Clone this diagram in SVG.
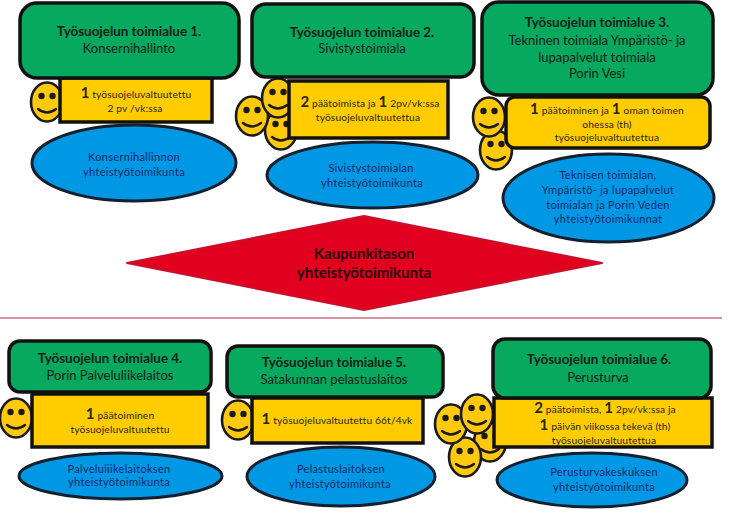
<svg xmlns="http://www.w3.org/2000/svg" width="739" height="528" viewBox="0 0 739 528">
<style>
text{font-family:Lato,"Noto Sans","Liberation Sans",sans-serif;text-anchor:middle;fill:#10201a}
.g{fill:#06a95e;stroke:#111;stroke-width:3.5}
.y{fill:#ffcc00;stroke:#111;stroke-width:3.5}
.b{fill:#0097e4;stroke:#14202e;stroke-width:3}
.t{font-size:13.4px;font-weight:700}
.s{font-size:13px}
.m{font-size:10.200px;letter-spacing:.15px;fill:#2a2510}
.n{font-size:15px;font-weight:700}
.e{font-size:11px;letter-spacing:.3px;fill:#0b2a66}
.c{font-size:15px;font-weight:700;fill:#2a0008}
.f{fill:#ffc90e;stroke:#1a1a1a;stroke-width:2.6}
.k{fill:#1a1a1a}
.h{fill:none;stroke:#1a1a1a;stroke-width:2.4;stroke-linecap:round}
</style>
<defs>
<g id="smile">
<ellipse class="f" cx="0" cy="0" rx="16" ry="19.5"/>
<circle class="k" cx="-5.5" cy="-6" r="3.2"/>
<circle class="k" cx="5.5" cy="-6" r="3.2"/>
<path class="h" d="M-9 7Q0 14 9 7"/>
</g>
</defs>

<g id="connectors">
<line x1="0" y1="318" x2="722" y2="318" stroke="#b8284a" stroke-width="1"/>
</g>

<g id="node-1">
<use href="#smile" x="47" y="102"/>
<rect class="y" x="60" y="78" width="152" height="44"/>
<rect class="g" x="20" y="3" width="219" height="75" rx="17"/>
<text class="t" x="129" y="36">Työsuojelun toimialue 1.</text>
<text class="s" x="129" y="53">Konsernihallinto</text>
<text class="m" x="136" y="98"><tspan class="n">1</tspan> työsuojeluvaltuutettu</text>
<text class="m" x="135" y="112">2 pv /vk:ssa</text>
<ellipse class="b" cx="134" cy="163" rx="102" ry="38"/>
<text class="e" x="134" y="161">Konsernihallinnon</text>
<text class="e" x="134" y="176">yhteistyötoimikunta</text>
</g>

<g id="node-2">
<use href="#smile" x="281" y="130"/>
<use href="#smile" x="252" y="116"/>
<use href="#smile" x="278" y="98"/>
<rect class="y" x="289" y="81" width="159" height="57"/>
<rect class="g" x="252" y="4" width="222" height="73" rx="14"/>
<text class="t" x="362" y="37">Työsuojelun toimialue 2.</text>
<text class="s" x="362" y="53">Sivistystoimiala</text>
<text class="m" x="370" y="107"><tspan class="n">2</tspan> päätoimista ja <tspan class="n">1</tspan> 2pv/vk:ssa</text>
<text class="m" x="368" y="121">työsuojeluvaltuutettua</text>
<ellipse class="b" cx="372.500" cy="175" rx="105.500" ry="33"/>
<text class="e" x="371" y="172">Sivistystoimialan</text>
<text class="e" x="372" y="187">yhteistyötoimikunta</text>
</g>

<g id="node-3">
<use href="#smile" x="496" y="150"/>
<use href="#smile" x="489" y="117"/>
<rect class="y" x="506" y="97" width="204" height="51" rx="9"/>
<rect class="g" x="482" y="2" width="231" height="93" rx="17"/>
<text class="t" x="597" y="27">Työsuojelun toimialue 3.</text>
<text class="s" x="597" y="45">Tekninen toimiala Ympäristö- ja</text>
<text class="s" x="597" y="62">lupapalvelut toimiala</text>
<text class="s" x="597" y="78">Porin Vesi</text>
<text class="m" x="607" y="114"><tspan class="n">1</tspan> päätoiminen ja <tspan class="n">1</tspan> oman toimen</text>
<text class="m" x="607" y="128">ohessa (th)</text>
<text class="m" x="607" y="141">työsuojeluvaltuutettua</text>
<ellipse class="b" cx="608.500" cy="198" rx="105.500" ry="44"/>
<text class="e" x="608" y="179">Teknisen toimialan,</text>
<text class="e" x="608" y="194">Ympäristö- ja lupapalvelut</text>
<text class="e" x="608" y="209">toimialan ja Porin Veden</text>
<text class="e" x="608" y="223">yhteistyötoimikunnat</text>
</g>

<g id="node-city">
<polygon points="127,263 364,216 602,263 364,310" fill="#e2001f" stroke="#c8102e" stroke-width="2" stroke-linejoin="round"/>
<text class="c" x="364" y="259">Kaupunkitason</text>
<text class="c" x="364" y="278">yhteistyötoimikunta</text>
</g>

<g id="node-4">
<use href="#smile" x="16" y="418"/>
<rect class="y" x="32" y="394" width="176" height="53"/>
<rect class="g" x="9" y="341" width="202" height="51" rx="11"/>
<text class="t" x="110" y="363">Työsuojelun toimialue 4.</text>
<text class="s" x="110" y="380">Porin Palveluliikelaitos</text>
<text class="m" x="120" y="419"><tspan class="n">1</tspan> päätoiminen</text>
<text class="m" x="120" y="433">työsuojeluvaltuutettu</text>
<ellipse class="b" cx="120.500" cy="476" rx="101.500" ry="23"/>
<text class="e" x="119" y="473">Palveluliikelaitoksen</text>
<text class="e" x="119" y="486">yhteistyötoimikunta</text>
</g>

<g id="node-5">
<use href="#smile" x="238" y="420"/>
<rect class="y" x="252" y="398" width="171" height="45"/>
<rect class="g" x="227" y="346" width="216" height="51" rx="11"/>
<text class="t" x="334" y="367">Työsuojelun toimialue 5.</text>
<text class="s" x="334" y="384">Satakunnan pelastuslaitos</text>
<text class="m" x="337" y="424"><tspan class="n">1</tspan> työsuojeluvaltuutettu 66t/4vk</text>
<ellipse class="b" cx="341" cy="476.500" rx="94" ry="29.500"/>
<text class="e" x="341" y="473">Pelastuslaitoksen</text>
<text class="e" x="340" y="488">yhteistyötoimikunta</text>
</g>

<g id="node-6">
<use href="#smile" x="490" y="442"/>
<use href="#smile" x="465" y="457"/>
<use href="#smile" x="451" y="424"/>
<use href="#smile" x="477" y="414"/>
<rect class="y" x="494" y="398" width="218" height="49"/>
<rect class="g" x="493" y="339" width="218" height="59" rx="12"/>
<text class="t" x="599" y="364">Työsuojelun toimialue 6.</text>
<text class="s" x="598" y="382">Perusturva</text>
<text class="m" x="605" y="413"><tspan class="n">2</tspan> päätoimista, <tspan class="n">1</tspan> 2pv/vk:ssa ja</text>
<text class="m" x="605" y="430"><tspan class="n">1</tspan> päivän viikossa tekevä (th)</text>
<text class="m" x="604" y="444">työsuojeluvaltuutettua</text>
<ellipse class="b" cx="592" cy="480" rx="95" ry="27"/>
<text class="e" x="604" y="476">Perusturvakeskuksen</text>
<text class="e" x="604" y="491">yhteistyötoimikunta</text>
</g>
</svg>
